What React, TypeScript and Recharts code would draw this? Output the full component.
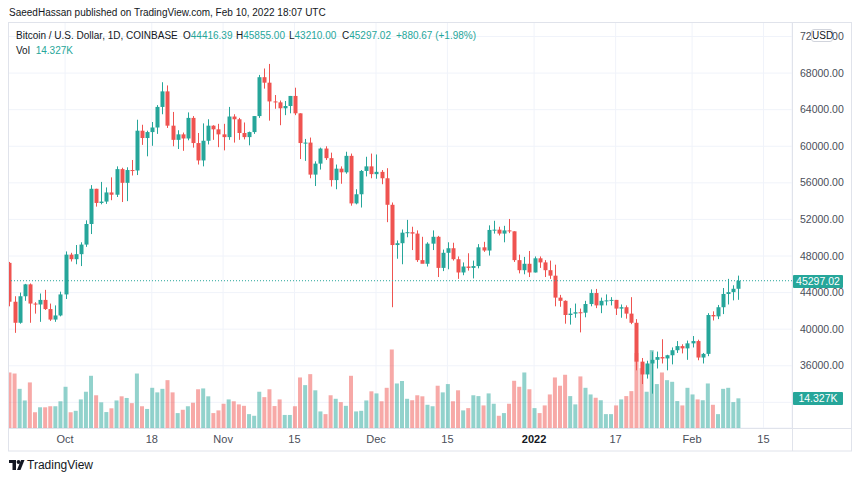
import React from "react";
import {
  ComposedChart,
  Bar,
  XAxis,
  YAxis,
  CartesianGrid,
  ReferenceLine,
  Cell,
} from "recharts";

const UP = "#26a69a";
const DOWN = "#ef5350";
const UP_VOL = "rgba(38,166,154,0.5)";
const DOWN_VOL = "rgba(239,83,80,0.5)";
const FONT = "'Liberation Sans', Arial, sans-serif";

// daily candles, 2021-09-20 .. 2022-02-10 (index 0 = Sep 20)
const opens = [
  47250, 43000, 40700, 43600, 44900, 42800, 42700, 43200, 42200, 41050, 41500,
  43800, 48150, 47650, 48200, 49250, 51500, 55350, 53800, 53950, 54950, 54700, 57500, 56000, 57400, 57350, 61700, 60900, 61550, 62050, 64300, 66000, 62250, 60700, 61300, 60850, 63100, 60350, 58450, 60600, 62250, 61850,
  61300, 61000, 63250, 62950, 61450, 61000, 61550, 63300, 67550, 66950, 64900, 64800, 64150, 64400, 65500, 63600, 60350, 60400, 56900, 58100, 59750, 58700, 56300, 57550, 57150, 58950, 53750, 54750, 57300, 57800,
  56950, 57200, 56500, 53600, 49200, 49400, 50550, 50600, 50450, 47550, 47150, 49350, 50100, 46700, 48350, 48850, 47650, 46200, 46850, 46700, 46900, 48950, 48600, 50850, 50880, 50450, 50800, 50700, 47550, 46450, 47150,
  46200, 47750, 47300, 46450, 45850, 43450, 43100, 41550, 41700, 41850, 41800, 42750, 43950, 42600, 43100, 43150, 43200, 42250, 42400, 41700, 40700, 36450, 35050, 36250, 36650, 36950, 36800, 37150, 37700, 38150, 37900,
  38450, 38700, 36900, 37300, 41550, 41400, 42400, 43850, 44050, 44416.39,
];
const highs = [
  47350, 43600, 44000, 44950, 45000, 42950, 43900, 44300, 42800, 42600, 44100,
  48500, 48350, 49200, 49500, 51900, 55750, 55350, 56100, 55500, 56600, 57800, 57650, 57700, 58500, 62900, 62350, 61700, 62650, 64500, 67000, 66650, 63750, 61750, 61500, 63700, 63300, 61450, 62500, 62950, 62300, 62450,
  62450, 64300, 63500, 63100, 62600, 61600, 63300, 67800, 68500, 69000, 65600, 65000, 64950, 65500, 66400, 63600, 60800, 60950, 58350, 59850, 60000, 59300, 58000, 57800, 59400, 59200, 55300, 57400, 58850, 59200,
  59100, 57400, 57600, 53850, 49700, 50900, 51950, 51200, 50800, 50100, 49500, 50800, 50200, 48700, 49500, 49450, 47950, 47300, 48300, 47500, 49300, 49550, 51350, 51850, 51200, 51300, 52050, 50700, 48150, 47900, 48550,
  47950, 47950, 47550, 47500, 47050, 43750, 43150, 42300, 42800, 42250, 43100, 44350, 44400, 43450, 43800, 43500, 43200, 42700, 42600, 43500, 41100, 36850, 36550, 37550, 37550, 38900, 37200, 38000, 38700, 38350, 38750,
  39250, 38850, 37400, 41750, 41950, 42650, 44500, 45500, 44800, 45855,
];
const lows = [
  42500, 39600, 40600, 43100, 40700, 41700, 40800, 42100, 40900, 40800, 41400,
  43300, 47400, 47100, 46900, 49000, 50400, 53400, 53650, 53700, 54100, 54450, 53900, 54000, 56800, 56850, 60150, 58900, 60050, 61350, 63500, 62000, 60000, 59700, 59500, 60650, 59850, 58000, 57800, 60200, 60700, 59900,
  59550, 60700, 60400, 60700, 60750, 60100, 61350, 63100, 66300, 62800, 64100, 62300, 63400, 63600, 63400, 58600, 58400, 56500, 55650, 57450, 58500, 55600, 55300, 55900, 57000, 53500, 53650, 53300, 56700, 56500,
  56450, 55850, 51700, 42400, 47700, 47100, 50050, 48650, 47350, 47300, 46850, 48650, 45700, 46350, 46550, 47500, 45500, 45900, 46400, 45550, 46650, 48450, 48050, 50450, 50250, 49500, 50500, 47350, 46100, 46000, 45700,
  46200, 46700, 45700, 45500, 42500, 42450, 40600, 40500, 41250, 39650, 41300, 42500, 42300, 41750, 42600, 42600, 41550, 41250, 41150, 40550, 35500, 34000, 34600, 32950, 35700, 36250, 35500, 36150, 37400, 37350, 36650,
  38000, 36600, 36250, 37050, 40950, 41100, 41650, 42700, 43150, 43210,
];
const closes = [
  43000, 40700, 43600, 44900, 42800, 42700, 43200, 42200, 41050, 41500, 43800,
  48150, 47650, 48200, 49250, 51500, 55350, 53800, 53950, 54950, 54700, 57500, 56000, 57400, 57350, 61700, 60900, 61550, 62050, 64300, 66000, 62250, 60700, 61300, 60850, 63100, 60350, 58450, 60600, 62250, 61850, 61300,
  61000, 63250, 62950, 61450, 61000, 61550, 63300, 67550, 66950, 64900, 64800, 64150, 64400, 65500, 63600, 60350, 60400, 56900, 58100, 59750, 58700, 56300, 57550, 57150, 58950, 53750, 54750, 57300, 57800, 56950,
  57200, 56500, 53600, 49200, 49400, 50550, 50600, 50450, 47550, 47150, 49350, 50100, 46700, 48350, 48850, 47650, 46200, 46850, 46700, 46900, 48950, 48600, 50850, 50880, 50450, 50800, 50700, 47550, 46450, 47150, 46200,
  47750, 47300, 46450, 45850, 43450, 43100, 41550, 41700, 41850, 41800, 42750, 43950, 42600, 43100, 43150, 43200, 42250, 42400, 41700, 40700, 36450, 35050, 36250, 36650, 36950, 36800, 37150, 37700, 38150, 37900, 38450,
  38700, 36900, 37300, 41550, 41400, 42400, 43850, 44050, 44416.39, 45297.02,
];
// volume in thousands of BTC
const volumes = [
  26.8, 26.3, 18.9, 13.3, 22.0, 7.6, 10.0, 10.0, 10.5, 10.5, 12.9,
  19.9, 7.6, 8.3, 13.8, 17.5, 25.2, 15.8, 12.4, 7.7, 9.5, 13.3, 15.3, 14.5, 12.0, 26.3, 10.5, 9.2, 19.4, 17.2, 18.9, 23.1, 17.2, 7.2, 8.8, 10.5, 12.2, 18.7, 19.1, 15.3, 7.2, 8.5,
  11.7, 13.8, 12.9, 11.4, 10.7, 6.7, 5.9, 17.5, 14.9, 18.7, 10.6, 13.8, 6.3, 6.3, 10.5, 24.4, 20.7, 26.0, 18.2, 8.0, 6.7, 15.8, 14.1, 12.5, 10.7, 25.2, 8.0, 8.3, 13.3, 17.7,
  16.7, 12.9, 19.4, 37.9, 21.5, 22.7, 14.1, 13.4, 15.8, 15.3, 11.2, 10.5, 20.4, 17.2, 21.2, 12.9, 18.2, 8.5, 9.6, 15.8, 15.4, 10.9, 16.7, 11.7, 5.9, 7.2, 11.7, 22.8, 19.9, 26.8, 18.7,
  9.6, 7.2, 10.9, 16.2, 24.4, 20.4, 25.7, 15.4, 11.4, 24.9, 19.4, 16.2, 14.6, 13.4, 6.7, 6.7, 10.9, 13.8, 15.4, 17.8, 36.2, 28.9, 17.5, 37.6, 21.2, 26.8, 23.1, 22.3, 13.0, 10.9, 19.4,
  16.2, 13.8, 13.4, 21.5, 11.2, 6.7, 18.9, 19.4, 12.5, 14.327,
];

const tickIdx = [11, 28, 42, 56, 72, 86, 103, 119, 134, 148];
const tickLabels = ["Oct", "18", "Nov", "15", "Dec", "15", "2022", "17", "Feb", "15"];
const priceTicks = [32000, 36000, 40000, 44000, 48000, 52000, 56000, 60000, 64000, 68000, 72000];
const lastPrice = 45297.02;

const rows = opens.map((o, i) => ({
  idx: i,
  open: o,
  high: highs[i],
  low: lows[i],
  close: closes[i],
  range: [lows[i], highs[i]],
  vol: volumes[i],
}));

const Candle = (props: any) => {
  const { x, y, width, height, payload } = props;
  if (!payload || height == null) return <g />;
  const { open, close, high, low } = payload;
  const color = close >= open ? UP : DOWN;
  const k = height / (high - low);
  const top = y + (high - Math.max(open, close)) * k;
  const bot = y + (high - Math.min(open, close)) * k;
  const cx = Math.round(x + width / 2) + 0.5;
  return (
    <g>
      <line x1={cx} x2={cx} y1={y} y2={y + height} stroke={color} strokeWidth={1} />
      <rect x={cx - 2} y={top} width={4} height={Math.max(1, bot - top)} fill={color} />
    </g>
  );
};

const XTick = (props: any) => {
  const { x, y, payload } = props;
  const i = tickIdx.indexOf(payload.value);
  const label = tickLabels[i];
  const bold = label === "2022";
  return (
    <text
      x={x}
      y={y + 15}
      textAnchor="middle"
      fontSize={11}
      fontFamily={FONT}
      fontWeight={bold ? 700 : 400}
      fill={bold ? "#131722" : "#4a4e59"}
    >
      {label}
    </text>
  );
};

const YTick = (props: any) => {
  const { x, y, payload } = props;
  if (payload.value === 32000) return <g />;
  return (
    <text x={x + 8} y={y + 3.6} fontSize={10.5} fontFamily={FONT} fill="#4a4e59">
      {payload.value.toFixed(2)}
    </text>
  );
};

const green = { color: UP };
const legendText = { position: "absolute" as const, top: 29, fontSize: 10, lineHeight: "14px", whiteSpace: "nowrap" as const };

export default function App() {
  return (
    <div
      style={{
        position: "absolute",
        left: 0,
        top: 0,
        width: 860,
        height: 481,
        background: "#fff",
        fontFamily: FONT,
        color: "#131722",
        overflow: "hidden",
      }}
    >
      <div style={{ position: "absolute", left: 9, top: 6, fontSize: 10, lineHeight: "14px", whiteSpace: "nowrap" }}>
        SaeedHassan published on TradingView.com, Feb 10, 2022 18:07 UTC
      </div>

      <div style={{ position: "absolute", left: 8, top: 22 }}>
        <ComposedChart width={844} height={429} data={rows} margin={{ top: 0, right: 0, bottom: 0, left: 0 }}>
          <XAxis
            xAxisId="p"
            dataKey="idx"
            type="number"
            domain={[-0.2, 153.6]}
            ticks={tickIdx}
            interval={0}
            tick={XTick}
            tickSize={0}
            tickMargin={0}
            axisLine={false}
            tickLine={false}
            height={23}
            allowDataOverflow
          />
          <XAxis xAxisId="v" dataKey="idx" type="number" domain={[-0.2, 153.6]} hide allowDataOverflow />
          <YAxis
            yAxisId="p"
            orientation="right"
            width={60}
            domain={[29195, 73585]}
            ticks={priceTicks}
            interval={0}
            tick={YTick}
            tickSize={0}
            tickMargin={0}
            axisLine={false}
            tickLine={false}
            allowDataOverflow
          />
          <YAxis yAxisId="v" hide domain={[0, 196]} allowDataOverflow />
          <CartesianGrid xAxisId="p" yAxisId="p" stroke="#f0f3fa" />
          <Bar xAxisId="v" yAxisId="v" dataKey="vol" barSize={4} isAnimationActive={false}>
            {rows.map((r) => (
              <Cell key={r.idx} fill={r.close >= r.open ? UP_VOL : DOWN_VOL} />
            ))}
          </Bar>
          <ReferenceLine xAxisId="p" yAxisId="p" y={lastPrice} stroke={UP} strokeDasharray="1 2" />
          <Bar xAxisId="p" yAxisId="p" dataKey="range" barSize={4} shape={Candle} isAnimationActive={false} />
        </ComposedChart>
      </div>

      <svg width={860} height={481} style={{ position: "absolute", left: 0, top: 0, pointerEvents: "none" }}>
        <rect x={8.5} y={22.5} width={843} height={428.5} fill="none" stroke="#e0e3eb" />
        <line x1={792.5} x2={792.5} y1={22} y2={451} stroke="#e0e3eb" />
        <line x1={8} x2={852} y1={428.5} y2={428.5} stroke="#e0e3eb" />
        <g fill="#131722">
          <path d="M9 460 H16 V470 H12.5 V463 H9 Z" />
          <circle cx={18.5} cy={462} r={1.9} />
          <path d="M21 460 H24.5 L20.5 470 H17 Z" />
        </g>
      </svg>

      <div style={{ ...legendText, left: 16 }}>Bitcoin / U.S. Dollar, 1D, COINBASE</div>
      <div style={{ ...legendText, left: 183 }}>
        O<span style={green}>44416.39</span>
      </div>
      <div style={{ ...legendText, left: 236 }}>
        H<span style={green}>45855.00</span>
      </div>
      <div style={{ ...legendText, left: 289 }}>
        L<span style={green}>43210.00</span>
      </div>
      <div style={{ ...legendText, left: 342 }}>
        C<span style={green}>45297.02</span>
      </div>
      <div style={{ ...legendText, left: 396, ...green }}>+880.67 (+1.98%)</div>
      <div style={{ ...legendText, left: 16, top: 44 }}>
        Vol <span style={{ ...green, marginLeft: 3 }}>14.327K</span>
      </div>

      <div
        style={{
          position: "absolute",
          left: 811,
          top: 29,
          width: 22,
          height: 13,
          border: "1px solid #d1d4dc",
          borderRadius: 3,
          background: "#fff",
          fontSize: 10,
          lineHeight: "11px",
          textAlign: "center",
          boxSizing: "border-box",
          color: "#131722",
        }}
      >
        USD
      </div>
      <div
        style={{
          position: "absolute",
          left: 793,
          top: 275,
          width: 50,
          height: 13,
          background: UP,
          color: "#fff",
          fontSize: 10.5,
          lineHeight: "13px",
          textAlign: "center",
          borderRadius: 1,
        }}
      >
        45297.02
      </div>
      <div
        style={{
          position: "absolute",
          left: 793,
          top: 392,
          width: 50,
          height: 13,
          background: UP,
          color: "#fff",
          fontSize: 10.5,
          lineHeight: "13px",
          textAlign: "center",
          borderRadius: 1,
        }}
      >
        14.327K
      </div>

      <div style={{ position: "absolute", left: 27, top: 458, fontSize: 12, lineHeight: "15px", color: "#131722" }}>
        TradingView
      </div>
    </div>
  );
}
